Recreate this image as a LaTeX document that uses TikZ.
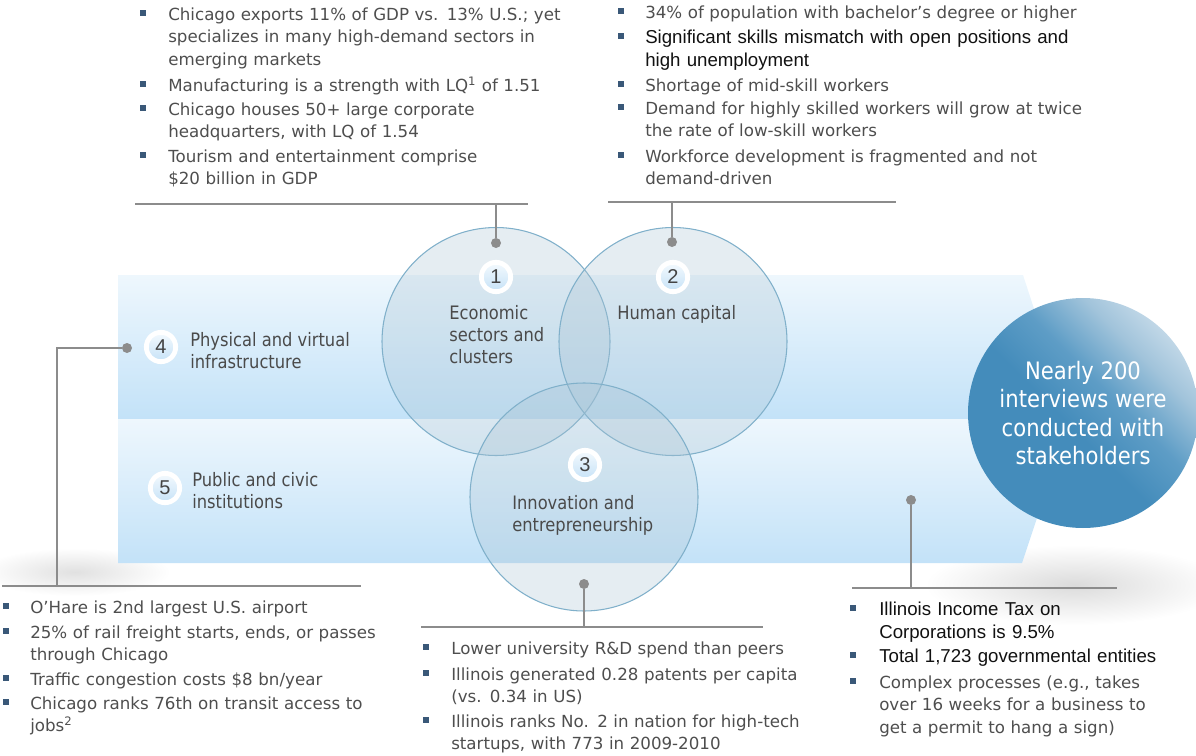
\documentclass[tikz,border=0pt]{standalone}
\usepackage{fontspec}
\setmainfont{DejaVu Sans}
\newfontfamily\vfont{DejaVu Sans}
\newfontfamily\afont{Liberation Sans}
\newfontfamily\tfont[FakeStretch=0.88]{DejaVu Sans}
\definecolor{txt}{HTML}{4E4E4E}
\definecolor{lbltxt}{HTML}{4A4A4A}
\definecolor{blk}{HTML}{111111}
\definecolor{bulc}{HTML}{3A5878}
\definecolor{lnk}{HTML}{8C8C8C}
\definecolor{bandT}{HTML}{EEF7FD}
\definecolor{bandB}{HTML}{C3E2F8}
\definecolor{cbd}{HTML}{80B0CA}
\definecolor{cfill}{HTML}{A9C3D3}
\definecolor{bigD}{HTML}{448CBB}
\definecolor{bigM}{HTML}{5E9DC6}
\definecolor{bigQ}{HTML}{A2C4DB}
\definecolor{bigL}{HTML}{C0D7E7}
\definecolor{numtxt}{HTML}{444444}
\definecolor{badT}{HTML}{F4FAFE}
\definecolor{badB}{HTML}{C6E2F7}
\pgfdeclareverticalshading{bigsh}{100bp}{color(0bp)=(bigD); color(46bp)=(bigD); color(57bp)=(bigM); color(68bp)=(bigQ); color(75bp)=(bigL); color(100bp)=(bigL)}
\tikzset{
  itm/.style={anchor=north west, inner sep=0pt, text width=560pt, align=left,
    font=\vfont\fontsize{12.5}{16.9}\selectfont, text=txt},
  aitm/.style={itm, font=\afont\fontsize{14.0}{17.25}\selectfont, text=blk},
  bulsq/.style={rectangle, fill=bulc, minimum size=4.1pt, inner sep=0pt},
  lbl/.style={anchor=north west, inner sep=0pt, align=left,
    font=\tfont\fontsize{13.9}{16.5}\selectfont, text=lbltxt},
  venn/.style={circle, draw=cbd, line width=0.8pt, fill=cfill, fill opacity=0.3,
    minimum size=171pt, inner sep=0pt},
  badge/.style={circle, draw=white, line width=3.6pt, top color=badT, bottom color=badB,
    minimum size=22pt, inner sep=0pt, font=\afont\fontsize{15}{15}\selectfont, text=numtxt},
  dotc/.style={circle, fill=lnk, minimum size=7.5pt, inner sep=0pt},
  wire/.style={draw=lnk, line width=1.1pt},
}
\newcommand{\fst}{\rule{0pt}{10.5pt}}
\newcommand{\lst}{\rule{0pt}{11.25pt}}
\begin{document}
\begin{tikzpicture}[x=0.75pt,y=-0.75pt]
\useasboundingbox (0,0) rectangle (1196,756);
% shadows
\shade[inner color=black!14, outer color=white] (1075,585) ellipse [x radius=150, y radius=40];
\shade[inner color=black!12, outer color=white] (75,572) ellipse [x radius=95, y radius=24];
% band
\shade[top color=bandT, bottom color=bandB] (118,275) -- (1023,275) -- (1070,419) -- (118,419) -- cycle;
\shade[top color=bandT, bottom color=bandB] (118,419) -- (1070,419) -- (1022,563) -- (118,563) -- cycle;
% venn circles
\node[venn] (c1) at (496,341.5) {};
\node[venn] (c2) at (673,341.5) {};
\node[venn] (c3) at (584,497) {};
% big circle
\node[circle, minimum size=172.5pt, inner sep=0pt, shade, shading=bigsh, shading angle=-45,
  text=white, align=center, font=\tfont\fontsize{18}{21.4}\selectfont] (big) at (1083,413)
  {Nearly 200\\interviews were\\conducted with\\stakeholders};
% badges
\node[badge] (b1) at (496,277) {1};
\node[badge] (b2) at (673,277) {2};
\node[badge] (b3) at (585,465) {3};
\node[badge] (b4) at (161,347) {4};
\node[badge] (b5) at (165,488) {5};
% labels
\node[lbl] (l1) at (449,304.5) {\lst Economic\\sectors and\\clusters};
\node[lbl] (l2) at (617,304.5) {\lst Human capital};
\node[lbl] (l3) at (512,494.5) {\lst Innovation and\\entrepreneurship};
\node[lbl] (l4) at (190,331.5) {\lst Physical and virtual\\infrastructure};
\node[lbl] (l5) at (192,471.5) {\lst Public and civic\\institutions};
% dots
\node[dotc] (d1) at (496,243) {};
\node[dotc] (d2) at (672,242) {};
\node[dotc] (d3) at (584,584) {};
\node[dotc] (d4) at (127,348) {};
\node[dotc] (d5) at (911,500) {};
% junctions
\coordinate (s1) at (496,204); \coordinate (s1a) at (135,204); \coordinate (s1b) at (528,204);
\coordinate (s2) at (672,202); \coordinate (s2a) at (608,202); \coordinate (s2b) at (896,202);
\coordinate (s3) at (584,627); \coordinate (s3a) at (421,627); \coordinate (s3b) at (763,627);
\coordinate (k4) at (57,348); \coordinate (s4) at (57,586); \coordinate (s4a) at (2,586); \coordinate (s4b) at (361,586);
\coordinate (s5) at (911,588); \coordinate (s5a) at (852,588); \coordinate (s5b) at (1117,588);
\draw[wire] (s1a) -- (s1b); \draw[wire] (d1) -- (s1);
\draw[wire] (s2a) -- (s2b); \draw[wire] (d2) -- (s2);
\draw[wire] (s3a) -- (s3b); \draw[wire] (d3) -- (s3);
\draw[wire] (s4a) -- (s4b); \draw[wire] (d4) -- (k4) -- (s4);
\draw[wire] (s5a) -- (s5b); \draw[wire] (d5) -- (s5);
% top-left
\node[itm] (tl1) at (168,6) {\fst Chicago exports 11\% of GDP vs. 13\% U.S.; yet\\specializes in many high-demand sectors in\\emerging markets};
\node[itm] (tl2) at (168,77) {\fst Manufacturing is a strength with LQ\textsuperscript{1} of 1.51};
\node[itm] (tl3) at (168,101) {\fst Chicago houses 50+ large corporate\\headquarters, with LQ of 1.54};
\node[itm] (tl4) at (168,148) {\fst Tourism and entertainment comprise\\\$20 billion in GDP};
\node[bulsq] (tb1) at (143,13) {}; \node[bulsq] (tb2) at (143,84) {};
\node[bulsq] (tb3) at (143,108) {}; \node[bulsq] (tb4) at (143,155) {};
% top-right
\node[itm] (tr1) at (645,4) {\fst 34\% of population with bachelor’s degree or higher};
\node[aitm] (tr2) at (645,29) {\fst Significant skills mismatch with open positions and\\high unemployment};
\node[itm] (tr3) at (645,77) {\fst Shortage of mid-skill workers};
\node[itm] (tr4) at (645,100) {\fst Demand for highly skilled workers will grow at twice\\the rate of low-skill workers};
\node[itm] (tr5) at (645,148) {\fst Workforce development is fragmented and not\\demand-driven};
\node[bulsq] (rb1) at (621,11) {}; \node[bulsq] (rb2) at (621,36) {};
\node[bulsq] (rb3) at (621,84) {}; \node[bulsq] (rb4) at (621,107) {};
\node[bulsq] (rb5) at (621,155) {};
% bottom-left
\node[itm] (bl1) at (30,599) {\fst O’Hare is 2nd largest U.S. airport};
\node[itm] (bl2) at (30,624) {\fst 25\% of rail freight starts, ends, or passes\\through Chicago};
\node[itm] (bl3) at (30,671) {\fst Traffic congestion costs \$8 bn/year};
\node[itm] (bl4) at (30,695) {\fst Chicago ranks 76th on transit access to\\jobs\textsuperscript{2}};
\node[bulsq] (lb1) at (6,606) {}; \node[bulsq] (lb2) at (6,631) {};
\node[bulsq] (lb3) at (6,678) {}; \node[bulsq] (lb4) at (6,702) {};
% bottom-middle
\node[itm] (bm1) at (451,640) {\fst Lower university R\&D spend than peers};
\node[itm] (bm2) at (451,666) {\fst Illinois generated 0.28 patents per capita\\(vs. 0.34 in US)};
\node[itm] (bm3) at (451,713) {\fst Illinois ranks No. 2 in nation for high-tech\\startups, with 773 in 2009-2010};
\node[bulsq] (mb1) at (426,647) {}; \node[bulsq] (mb2) at (426,673) {};
\node[bulsq] (mb3) at (426,720) {};
% bottom-right
\node[aitm] (br1) at (879,601) {\fst Illinois Income Tax on\\Corporations is 9.5\%};
\node[aitm] (br2) at (879,648) {\fst Total 1,723 governmental entities};
\node[itm] (br3) at (879,674) {\fst Complex processes (e.g., takes\\over 16 weeks for a business to\\get a permit to hang a sign)};
\node[bulsq] (qb1) at (853,608) {}; \node[bulsq] (qb2) at (853,655) {};
\node[bulsq] (qb3) at (853,681) {};
\end{tikzpicture}
\end{document}
